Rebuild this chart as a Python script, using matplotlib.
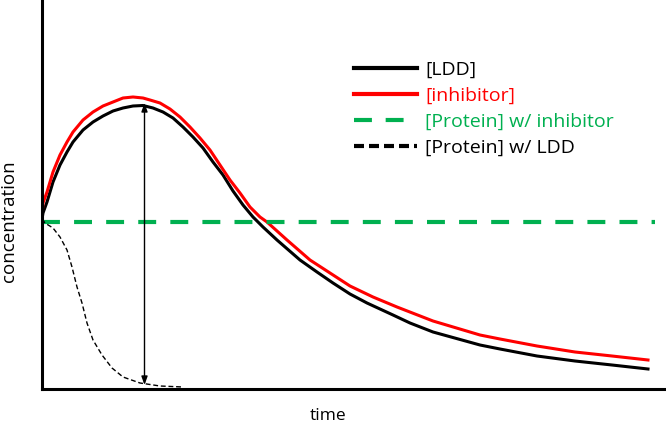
import matplotlib
matplotlib.use("Agg")
import matplotlib.pyplot as plt
from matplotlib.lines import Line2D

plt.rcParams['font.family'] = ['Open Sans', 'DejaVu Sans']

# LDD concentration
ldd_t = [0, 1, 5, 8, 11, 18, 25, 31, 41, 51, 61, 71, 81, 91, 101, 111, 121, 131, 141, 151, 161, 171,
         181, 191, 201, 211, 221, 235, 258, 275, 291, 308, 325, 338, 351, 368, 391, 438, 458, 495, 533, 570, 606]
ldd_c = [170, 176, 187, 197, 207, 224, 237, 247, 259, 267, 273, 278, 281, 283, 283.5, 281, 277, 271, 262, 252, 241, 227,
         214, 198, 184, 172, 162, 149, 129, 117, 106, 95, 86, 80, 74, 66, 57, 44, 40, 33, 28, 24, 20]

# inhibitor concentration
inh_t = [0, 1, 5, 8, 11, 18, 25, 31, 41, 51, 61, 71, 81, 91, 101, 108, 118, 128, 138, 148, 158, 168,
         178, 188, 198, 208, 218, 225, 245, 268, 288, 308, 331, 355, 391, 438, 458, 495, 533, 570, 606]
inh_c = [174, 186, 197, 207, 217, 234, 247, 257, 269, 277, 283, 287, 291, 292, 291, 289, 286, 280, 272, 262, 251, 239,
         224, 209, 196, 182, 172, 167, 149, 129, 116, 103, 92, 82, 68, 54, 50, 43, 37, 33, 29]

# protein with inhibitor (constant)
pinh_t = [0, 613]
pinh_c = [167.5, 167.5]

# protein with LDD
pldd_t = [0, 3, 11, 18, 25, 30, 35, 40, 45, 51, 60, 70, 81, 98, 118, 141]
pldd_c = [170, 166, 161, 152, 139, 122, 102, 86, 66, 49, 34, 21, 12, 6, 3, 2]

# double arrow (time of peak, from peak to baseline)
arrow_t = 102.5
arrow_top = 286
arrow_bottom = 4

labels = ['[LDD]', '[inhibitor]', '[Protein] w/ inhibitor', '[Protein] w/ LDD']

W, H = 666, 424
fig = plt.figure(figsize=(W / 100, H / 100), dpi=100)
ax = fig.add_axes([42 / W, (H - 389) / H, (W - 42) / W, 389 / H])

green = '#00B050'
red = '#FF0000'
ax.plot(ldd_t, ldd_c, color='black', lw=2.2, solid_joinstyle='round')
ax.plot(inh_t, inh_c, color=red, lw=2.2, solid_joinstyle='round')
ax.plot(pinh_t, pinh_c, color=green, lw=3.0, dashes=(4.3, 3.4))
ax.plot(pldd_t, pldd_c, color='black', lw=1.0, dashes=(3.5, 2))

ax.annotate('', xy=(arrow_t, arrow_top), xytext=(arrow_t, arrow_bottom),
            arrowprops=dict(arrowstyle='<|-|>,head_length=0.5,head_width=0.18',
                            color='black', lw=1.0, shrinkA=0, shrinkB=0))

ax.set_xlim(0, 624)
ax.set_ylim(0, 389)
ax.set_xticks([])
ax.set_yticks([])
for s in ['top', 'right']:
    ax.spines[s].set_visible(False)
for s in ['left', 'bottom']:
    ax.spines[s].set_linewidth(2.2)
    ax.spines[s].set_color('black')

ax.set_xlabel('time', fontsize=12.5)
ax.set_ylabel('concentration', fontsize=13.5)
ax.xaxis.set_label_coords((328 - 42) / 624, (389 - 416.5) / 389)
ax.xaxis.label.set_verticalalignment('center')
ax.yaxis.set_label_coords((9.5 - 42) / 624, (389 - 221) / 389)
ax.yaxis.label.set_verticalalignment('center')

handles = [
    Line2D([], [], color='black', lw=3),
    Line2D([], [], color=red, lw=3),
    Line2D([], [], color=green, lw=3, dashes=(4.3, 3.3)),
    Line2D([], [], color='black', lw=3, dashes=(2.4, 1.2)),
]
leg = ax.legend(handles, labels, loc='upper left', bbox_to_anchor=((354 - 42) / 624, (389 - 61) / 389),
                frameon=False, fontsize=14, handlelength=3.24, handletextpad=0.41,
                labelspacing=0.4, borderpad=0, borderaxespad=0)
for txt, c in zip(leg.get_texts(), ['black', red, green, 'black']):
    txt.set_color(c)

fig.savefig('out.png', dpi=100)
